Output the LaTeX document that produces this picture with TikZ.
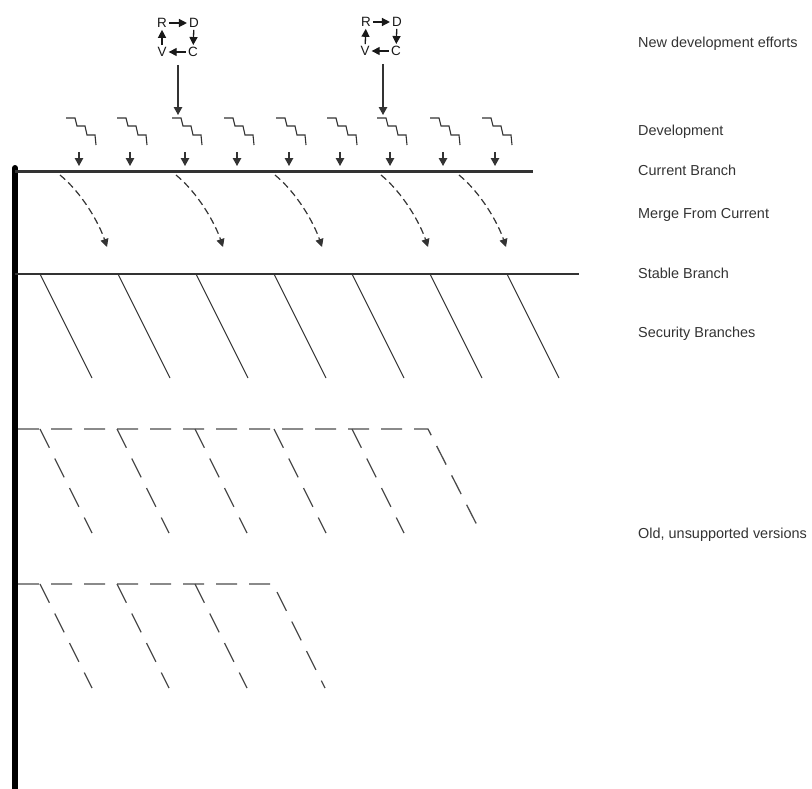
\documentclass[tikz,border=0pt]{standalone}
\usepackage{fontspec}
\setmainfont{Liberation Sans}
\usetikzlibrary{arrows.meta}
\definecolor{ink}{HTML}{333333}

\begin{document}
\begin{tikzpicture}[x=1bp,y=-1bp,
    sidetext/.style={anchor=base west,inner sep=0pt,text=ink,%
      font=\fontsize{14.5}{17}\selectfont},
    letter/.style={inner sep=2pt,text=black!90,font=\fontsize{13.5}{15}\selectfont},
    headed/.style={-{Triangle[length=8bp,width=8.5bp]},ink,line width=1.2bp},
    cycarrow/.style={-{Triangle[length=8bp,width=8bp]},black!90,line width=1.3bp},
    stairs/.pic={\draw[ink,line width=1.1bp] (0,0) -- (9,0) -- (11,8) -- (19,8) %
        -- (21,17) -- (29,17) -- (30,27);
      \draw[headed] (13,34) -- (13,48);
      \coordinate (-in) at (6,-3);},
    merge/.pic={\draw[ink,line width=1.2bp,dash pattern=on 7bp off 4bp,%
        -{Triangle[length=8bp,width=8bp]}] (0,0) .. controls (22,18) and (39,48) .. (47,72);},
    secline/.style={ink,line width=1bp},
    oldline/.style={black!70,line width=1.3bp,dash pattern=on 21bp off 12bp}]
      \useasboundingbox (0,0) rectangle (812,789);

      % trunk, current and stable branch
      \coordinate (trunktop) at (15,168);
      \coordinate (trunkend) at (15,792);
      \draw[black,line width=6bp,line cap=round] (trunktop) -- (trunkend);
      \coordinate (cur) at (15,171);
      \coordinate (curend) at (533,171);
      \draw[ink,line width=3bp] (cur) -- (curend);
      \coordinate (stab) at (15,274);
      \coordinate (stabend) at (579,274);
      \draw[ink,line width=2bp] (stab) -- (stabend);

      % development
      \pic (dev1) at (66,118) {stairs};
      \pic (dev2) at (117,118) {stairs};
      \pic (dev3) at (172,118) {stairs};
      \pic (dev4) at (224,118) {stairs};
      \pic (dev5) at (276,118) {stairs};
      \pic (dev6) at (327,118) {stairs};
      \pic (dev7) at (377,118) {stairs};
      \pic (dev8) at (430,118) {stairs};
      \pic (dev9) at (482,118) {stairs};

      % new development efforts
      \node[letter] (rA) at (162,23) {R};
      \node[letter] (dA) at (194,23) {D};
      \node[letter] (cA) at (193,52) {C};
      \node[letter] (vA) at (162,52) {V};
      \draw[cycarrow] (rA) -- (dA);
      \draw[cycarrow] (dA) -- (cA);
      \draw[cycarrow] (cA) -- (vA);
      \draw[cycarrow] (vA) -- (rA);
      \coordinate (cycA) at (178,65);
      \draw[headed] (cycA) -- (dev3-in);
      \node[letter] (rB) at (366,22) {R};
      \node[letter] (dB) at (397,22) {D};
      \node[letter] (cB) at (396,51) {C};
      \node[letter] (vB) at (365,51) {V};
      \draw[cycarrow] (rB) -- (dB);
      \draw[cycarrow] (dB) -- (cB);
      \draw[cycarrow] (cB) -- (vB);
      \draw[cycarrow] (vB) -- (rB);
      \coordinate (cycB) at (383,64);
      \draw[headed] (cycB) -- (dev7-in);

      % merge from current
      \pic at (60,175) {merge};
      \pic at (176,175) {merge};
      \pic at (275,175) {merge};
      \pic at (381,175) {merge};
      \pic at (459,175) {merge};

      % security branches
      \draw[secline] (40,274) -- ++(52,104);
      \draw[secline] (118,274) -- ++(52,104);
      \draw[secline] (196,274) -- ++(52,104);
      \draw[secline] (274,274) -- ++(52,104);
      \draw[secline] (352,274) -- ++(52,104);
      \draw[secline] (430,274) -- ++(52,104);
      \draw[secline] (507,274) -- ++(52,104);

      % old, unsupported versions
      \draw[oldline] (18,429) -- (428,429) -- ++(53,104);
      \draw[oldline] (40,429) -- ++(52,104);
      \draw[oldline] (117,429) -- ++(52,104);
      \draw[oldline] (195,429) -- ++(52,104);
      \draw[oldline] (274,429) -- ++(52,104);
      \draw[oldline] (352,429) -- ++(52,104);
      \draw[oldline] (18,584) -- (273,584) -- ++(52,104);
      \draw[oldline] (40,584) -- ++(52,104);
      \draw[oldline] (117,584) -- ++(52,104);
      \draw[oldline] (195,584) -- ++(52,104);

      % legend
      \node[sidetext] (lnew) at (638,48) {New development efforts};
      \node[sidetext] (ldev) at (638,135) {Development};
      \node[sidetext] (lcur) at (638,175) {Current Branch};
      \node[sidetext] (lmerge) at (638,218) {Merge From Current};
      \node[sidetext] (lstab) at (638,278) {Stable Branch};
      \node[sidetext] (lsec) at (638,337) {Security Branches};
      \node[sidetext] (lold) at (638,538) {Old, unsupported versions};
    \end{tikzpicture}
\end{document}
